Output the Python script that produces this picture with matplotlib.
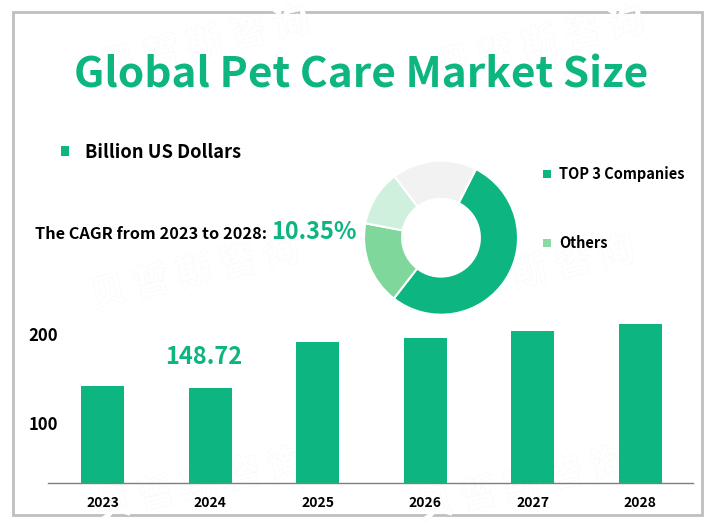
import matplotlib
matplotlib.use("Agg")
import matplotlib.pyplot as plt
import matplotlib.patheffects as pe
from matplotlib.patches import Rectangle

plt.rcParams['font.family'] = ['Noto Sans CJK SC', 'DejaVu Sans']
plt.rcParams['font.weight'] = 'bold'

W, H = 711, 529
GREEN = "#0DB580"

years = ["2023", "2024", "2025", "2026", "2027", "2028"]
market_size = [141.5, 139.3, 191, 195.5, 203, 211]
y_ticks = [100, 200]

share_values = [53, 17.5, 11.7, 17.8]
share_colors = ["#0DB580", "#7FD79B", "#CFF0DC", "#F2F2F2"]
legend_labels = ["TOP 3 Companies", "Others"]
legend_colors = ["#0DB580", "#8ADBA3"]


def px_axes(x0, y0, x1, y1):
    # pixel box, y measured from the top of the image
    return fig.add_axes([x0 / W, 1 - y1 / H, (x1 - x0) / W, (y1 - y0) / H])


fig = plt.figure(figsize=(W / 100, H / 100), dpi=100, facecolor="white")

# full figure layer for frame, titles and watermark
bg = fig.add_axes([0, 0, 1, 1])
bg.set_xlim(0, W)
bg.set_ylim(H, 0)
bg.axis("off")
bg.add_patch(Rectangle((13, 12), 689, 503, fill=False, ec="#BFBFBF", lw=2))

# watermark, outlined and very faint
for x, y in [(205, 44), (540, 44), (195, 273), (530, 273), (200, 485), (522, 485)]:
    bg.text(x, y, "贝 哲 斯 咨 询", color="white", fontsize=26, rotation=13,
            ha="center", va="center",
            path_effects=[pe.withStroke(linewidth=0.6, foreground="#F5F7F8")])

bg.text(361.5, 88, "Global Pet Care Market Size", color=GREEN, fontsize=30.5,
        ha="center", va="baseline")
bg.add_patch(Rectangle((61, 146), 8.3, 10, color=GREEN, lw=0))
bg.text(85, 158, "Billion US Dollars", color="black", fontsize=13.15, va="baseline")
bg.text(35, 238.7, "The CAGR from 2023 to 2028:", color="black", fontsize=11.75, va="baseline")
bg.text(271.5, 239, "10.35%", color=GREEN, fontsize=16.9, va="baseline")
bg.text(204, 364, "148.72", color=GREEN, fontsize=17, ha="center", va="baseline")

for label, color, y in zip(legend_labels, legend_colors, [179, 247.7]):
    bg.add_patch(Rectangle((542.7, y - 9), 8.6, 8.3, color=color, lw=0))
    bg.text(559, y, label, color="black", fontsize=10.5, va="baseline")

# bars
ax = px_axes(48, 310, 693, 482.5)
ax.patch.set_alpha(0)
ax.bar(range(len(years)), market_size, width=0.4, color=GREEN)
ax.set_xlim(-0.507, 5.493)
ax.set_ylim(100 - (482.5 - 423) / 0.89, 100 + (423 - 310) / 0.89)
ax.set_xticks(range(len(years)), years)
ax.set_yticks(y_ticks)
ax.tick_params(length=0)
ax.tick_params(axis="x", labelsize=10, pad=9.5)
ax.tick_params(axis="y", labelsize=12, pad=-7.2)
for side in ["top", "left", "right"]:
    ax.spines[side].set_visible(False)
ax.spines["bottom"].set_color("#7F7F7F")
ax.spines["bottom"].set_linewidth(1)

# donut
pie = px_axes(441 - 78, 237.7 - 78, 441 + 78, 237.7 + 78)
pie.pie(share_values, colors=share_colors, startangle=63, counterclock=False, radius=1,
        wedgeprops=dict(width=0.495, edgecolor="white", linewidth=1.5))
pie.set_xlim(-78 / 77, 78 / 77)
pie.set_ylim(-78 / 77, 78 / 77)

fig.savefig("out.png", dpi=100)
